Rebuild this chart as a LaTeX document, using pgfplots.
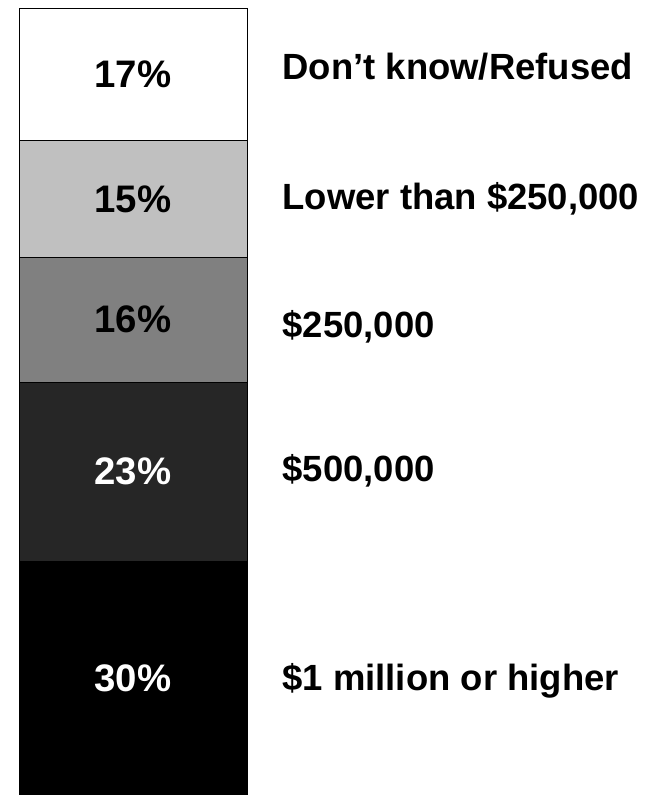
\documentclass[border=0pt]{standalone}
\usepackage{pgfplots}
\pgfplotsset{compat=1.18}
\usepackage{fontspec}
\setmainfont{Liberation Sans}
\definecolor{segA}{RGB}{0,0,0}
\definecolor{segB}{RGB}{38,38,38}
\definecolor{segC}{RGB}{128,128,128}
\definecolor{segD}{RGB}{192,192,192}
\definecolor{segE}{RGB}{255,255,255}
\tikzset{lbl/.style={font=\fontsize{36.6}{40}\selectfont\bfseries},
  pct/.style={font=\fontsize{38.5}{42}\selectfont\bfseries}}
\begin{document}
\begin{tikzpicture}
\begin{axis}[
  name=ax, anchor=south west, at={(0,0)},
  scale only axis, width=664bp, height=795bp,
  xmin=0, xmax=664, ymin=0, ymax=102.03,
  hide axis, clip=false,
  ybar stacked, bar width=228bp,
  every axis plot/.append style={draw=black, line width=0.8bp},
]
\addplot[fill=segA] coordinates {(133,30)};
\addplot[fill=segB] coordinates {(133,23)};
\addplot[fill=segC] coordinates {(133,16)};
\addplot[fill=segD] coordinates {(133,15)};
\addplot[fill=segE] coordinates {(133,17)};
% segment centres, labelled after the axis so the bars don't cover them
\coordinate (s1) at (axis cs:133,15);
\coordinate (s2) at (axis cs:133,41.5);
\coordinate (s3) at (axis cs:133,61);
\coordinate (s4) at (axis cs:133,76.5);
\coordinate (s5) at (axis cs:133,92.5);
\node[lbl, anchor=west] at (axis cs:279,14.7) {\$1 million or higher};
\node[lbl, anchor=west] at (axis cs:279,41.6) {\$500,000};
\node[lbl, anchor=west] at (axis cs:279,60.1) {\$250,000};
\node[lbl, anchor=west] at (axis cs:279,76.5) {Lower than \$250,000};
\node[lbl, anchor=west] at (axis cs:279,93.5) {Don’t know/Refused};
\end{axis}
\node[pct, white] at (s1) {30\%};
\node[pct, white] at (s2) {23\%};
\node[pct] at (s3) {16\%};
\node[pct] at (s4) {15\%};
\node[pct] at (s5) {17\%};
\pgfresetboundingbox
\path (ax.south west) rectangle (ax.north east);
\end{tikzpicture}
\end{document}
